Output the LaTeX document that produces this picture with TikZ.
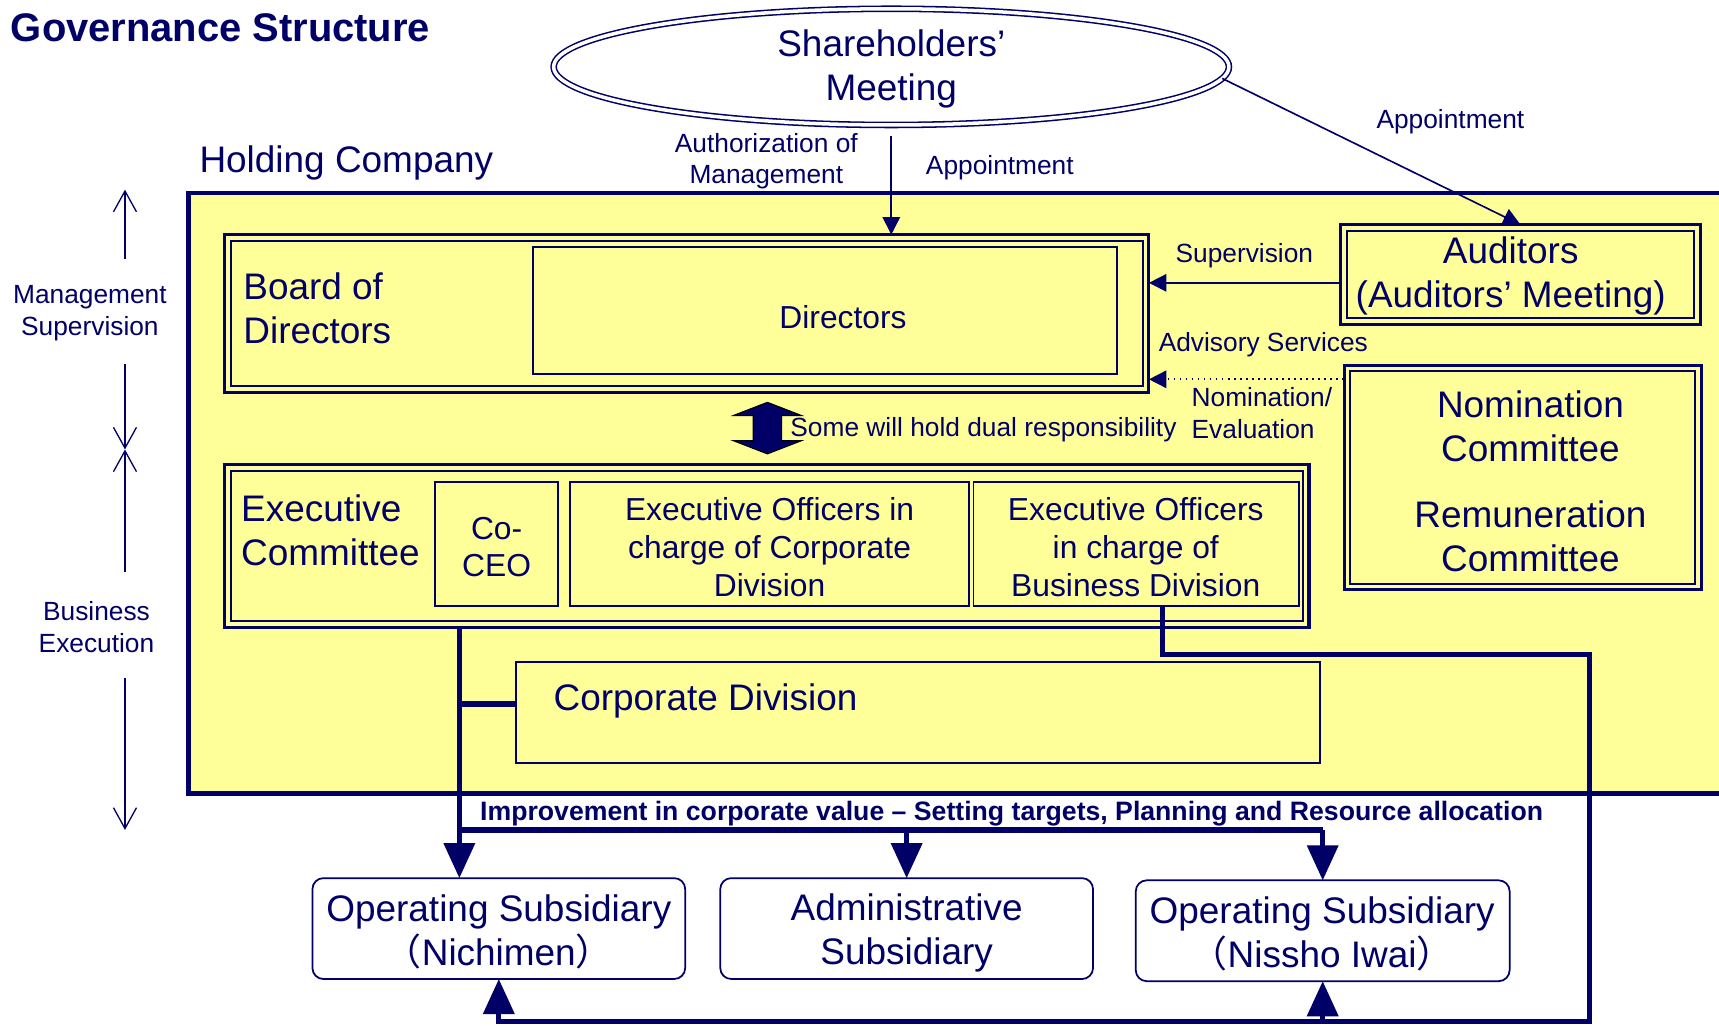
\documentclass[tikz,border=0pt]{standalone}
\usepackage{fontspec}
\setmainfont{Liberation Sans}
\newfontfamily\cjkfont{Noto Sans CJK JP}
\usetikzlibrary{arrows.meta,shapes.geometric,fit,calc}
\definecolor{navy}{RGB}{0,0,102}
\definecolor{pale}{RGB}{255,255,153}
\begin{document}
\begin{tikzpicture}[x=0.5pt,y=-0.5pt,
  every node/.style={text=navy, inner sep=0pt, outer sep=0pt},
  big/.style={font=\fontsize{16.85}{20}\selectfont},
  med/.style={font=\fontsize{14.5}{17.2}\selectfont},
  sml/.style={font=\fontsize{12}{14.5}\selectfont},
  frame/.style={draw=navy, line width=2.2pt, fill=pale},
  dbox/.style={draw=navy, line width=1.4pt, fill=pale},
  inbox/.style={draw=navy, line width=0.9pt},
  sbox/.style={draw=navy, line width=0.8pt, fill=pale},
  subbox/.style={draw=navy, line width=0.8pt, fill=white, rounded corners=5pt},
  conn/.style={draw=navy, line width=0.75pt},
  arr/.style={-{Triangle[length=8pt,width=8pt]}},
  thk/.style={draw=navy, line width=2.2pt},
  bigarr/.style={-{Triangle[length=16pt,width=14pt]}},
  barb/.style={-{Straight Barb[length=9.5pt,width=10.5pt]}},
]
\useasboundingbox (0,0) rectangle (1568,935);
\clip (0,0) rectangle (1568,935);

% title
\node[anchor=base west, font=\bfseries\fontsize{18.2}{20}\selectfont] (title) at (10,38) {Governance Structure};
\node[big, anchor=base west] (hc) at (182,157) {Holding Company};

% holding company frame
\node[frame, fit={(172,176)(1610,724)}] (hold) {};

% shareholders meeting
\node[ellipse, draw=navy, double=white, line width=0.7pt, double distance=1.6pt,
      minimum width=308pt, minimum height=53pt] (sh) at (813,61) {};
\node[big, align=center] (shtxt) at (813,63) {Shareholders’\\Meeting};

% board of directors
\node[dbox, fit={(205,214)(1048,358)}] (bod) {};
\draw[inbox] ([shift={(5.5,5.5)}]bod.north west) rectangle ([shift={(-5.5,-5.5)}]bod.south east);
\node[sbox, fit={(486,225)(1019,341)}] (dirs) {};
\node[med] (dirtxt) at (769,289) {Directors};
\node[big, align=left, anchor=west] (bodtxt) at (222,281) {Board of\\Directors};

% auditors
\node[dbox, fit={(1223,205)(1551,296)}] (aud) {};
\draw[inbox] ([shift={(5.5,5.5)}]aud.north west) rectangle ([shift={(-5.5,-5.5)}]aud.south east);
\node[big, align=center] (audtxt) at (1378,252) {Auditors\\(Auditors’ Meeting)};

% nomination / remuneration
\node[dbox, fit={(1226,333)(1552,538)}] (nom) {};
\draw[inbox] ([shift={(5.5,5.5)}]nom.north west) rectangle ([shift={(-5.5,-5.5)}]nom.south east);
\node[big, align=center] (nomtxt) at (1396,439) {Nomination\\Committee\\[10.5pt]Remuneration\\Committee};

% executive committee
\node[dbox, fit={(205,424)(1194,572)}] (exc) {};
\draw[inbox] ([shift={(5.5,5.5)}]exc.north west) rectangle ([shift={(-5.5,-5.5)}]exc.south east);
\node[big, align=left, anchor=west] (exctxt) at (220,484) {Executive\\Committee};
\node[sbox, fit={(397,440)(509,553)}] (ceo) {};
\node[med, align=center] (ceotxt) at (453,499) {Co-\\CEO};
\node[sbox, fit={(520,440)(884,553)}] (eoc) {};
\node[med, align=center] (eoctxt) at (702,499) {Executive Officers in\\charge of Corporate\\Division};
\node[sbox, fit={(888,440)(1185,553)}] (eob) {};
\node[med, align=center] (eobtxt) at (1036,499) {Executive Officers\\in charge of\\Business Division};

% corporate division
\node[sbox, fit={(471,604)(1204,696)}] (cdv) {};
\node[big, anchor=west] (cdvtxt) at (505,639) {Corporate Division};

% subsidiaries
\node[subbox, fit={(285,801)(625,893)}] (nich) {};
\node[big, align=center] (nichtxt) at (455,850) {Operating Subsidiary\\{\cjkfont （}Nichimen{\cjkfont ）}};
\node[subbox, fit={(657,801)(997,893)}] (adm) {};
\node[big, align=center] (admtxt) at (827,851) {Administrative\\Subsidiary};
\node[subbox, fit={(1036,803)(1377,895)}] (nis) {};
\node[big, align=center] (nistxt) at (1206,852) {Operating Subsidiary\\{\cjkfont （}Nissho Iwai{\cjkfont ）}};

% small labels
\node[sml, align=center] (authl) at (699,147) {Authorization of\\Management};
\node[sml] (appl1) at (912,153) {Appointment};
\node[sml] (appl2) at (1323,111) {Appointment};
\node[sml] (supl) at (1135,233) {Supervision};
\node[sml, anchor=west] (advl) at (1057,314) {Advisory Services};
\node[sml, anchor=west, align=left] (nomel) at (1087,377) {Nomination/\\Evaluation};
\node[sml, anchor=west] (dual) at (721,392) {Some will hold dual responsibility};
\node[font=\bfseries\fontsize{12.15}{14.5}\selectfont, anchor=west] (impr) at (438,742)
  {Improvement in corporate value – Setting targets, Planning and Resource allocation};
\node[sml, align=center] (msup) at (82,286) {Management\\Supervision};
\node[sml, align=center] (bexe) at (88,572) {Business\\Execution};

% helper coordinates
\coordinate (supy) at (0,258);
\coordinate (advy) at (0,346);
\coordinate (xa) at (419,0);
\coordinate (xb) at (1060,0);
\coordinate (xr) at (1450,0);
\coordinate (yc) at (0,642);
\coordinate (yl) at (0,757);
\coordinate (ym) at (0,597);
\coordinate (yb) at (0,932);
\coordinate (dba) at (700,390.5);
\coordinate (l1) at (114,236);
\coordinate (l2) at (114,173);
\coordinate (l3) at (114,332);
\coordinate (l4) at (114,410);
\coordinate (l5) at (114,522);
\coordinate (l6) at (114,618);
\coordinate (l7) at (114,757);

% thin connectors
\draw[conn, arr] ($(sh.south)+(0,10)$) -- (sh.south |- bod.north);
\draw[conn, arr] (sh.-2.4) -- (aud.north);
\draw[conn, arr] (aud.west |- supy) -- (bod.east |- supy);
\draw[conn, arr, dotted] (nom.west |- advy) -- (bod.east |- advy);

% dual responsibility block arrow
\begin{scope}[shift={(dba)}]
\filldraw[fill=navy, draw=black, line width=0.5pt]
  (0,-23.5) -- (31,-11.5) -- (13,-11.5) -- (13,11.5) -- (31,11.5) -- (0,23.5)
  -- (-31,11.5) -- (-13,11.5) -- (-13,-11.5) -- (-31,-11.5) -- cycle;
\end{scope}

% left side arrows
\draw[navy, line width=0.6pt, barb] (l1) -- (l2);
\draw[navy, line width=0.6pt, barb] (l3) -- (l4);
\draw[navy, line width=0.6pt, barb] (l5) -- (l4);
\draw[navy, line width=0.6pt, barb] (l6) -- (l7);

% thick connectors
\draw[thk, line width=3pt] (xa |- yc) -- (cdv.west |- yc);
\draw[thk, line width=2.8pt] (xa |- yl) -- (nis.north |- yl);
\draw[thk, bigarr] (exc.south -| xa) -- (nich.north -| xa);
\draw[thk, bigarr] (adm.north |- yl) -- (adm.north);
\draw[thk, bigarr] (nis.north |- yl) -- (nis.north);
\draw[thk, bigarr] (eob.south -| xb) -- (xb |- ym) -- (xr |- ym) -- (xr |- yb) -- (nich.south |- yb) -- (nich.south);
\draw[thk, bigarr] (nis.south |- yb) -- (nis.south);
\end{tikzpicture}
\end{document}
